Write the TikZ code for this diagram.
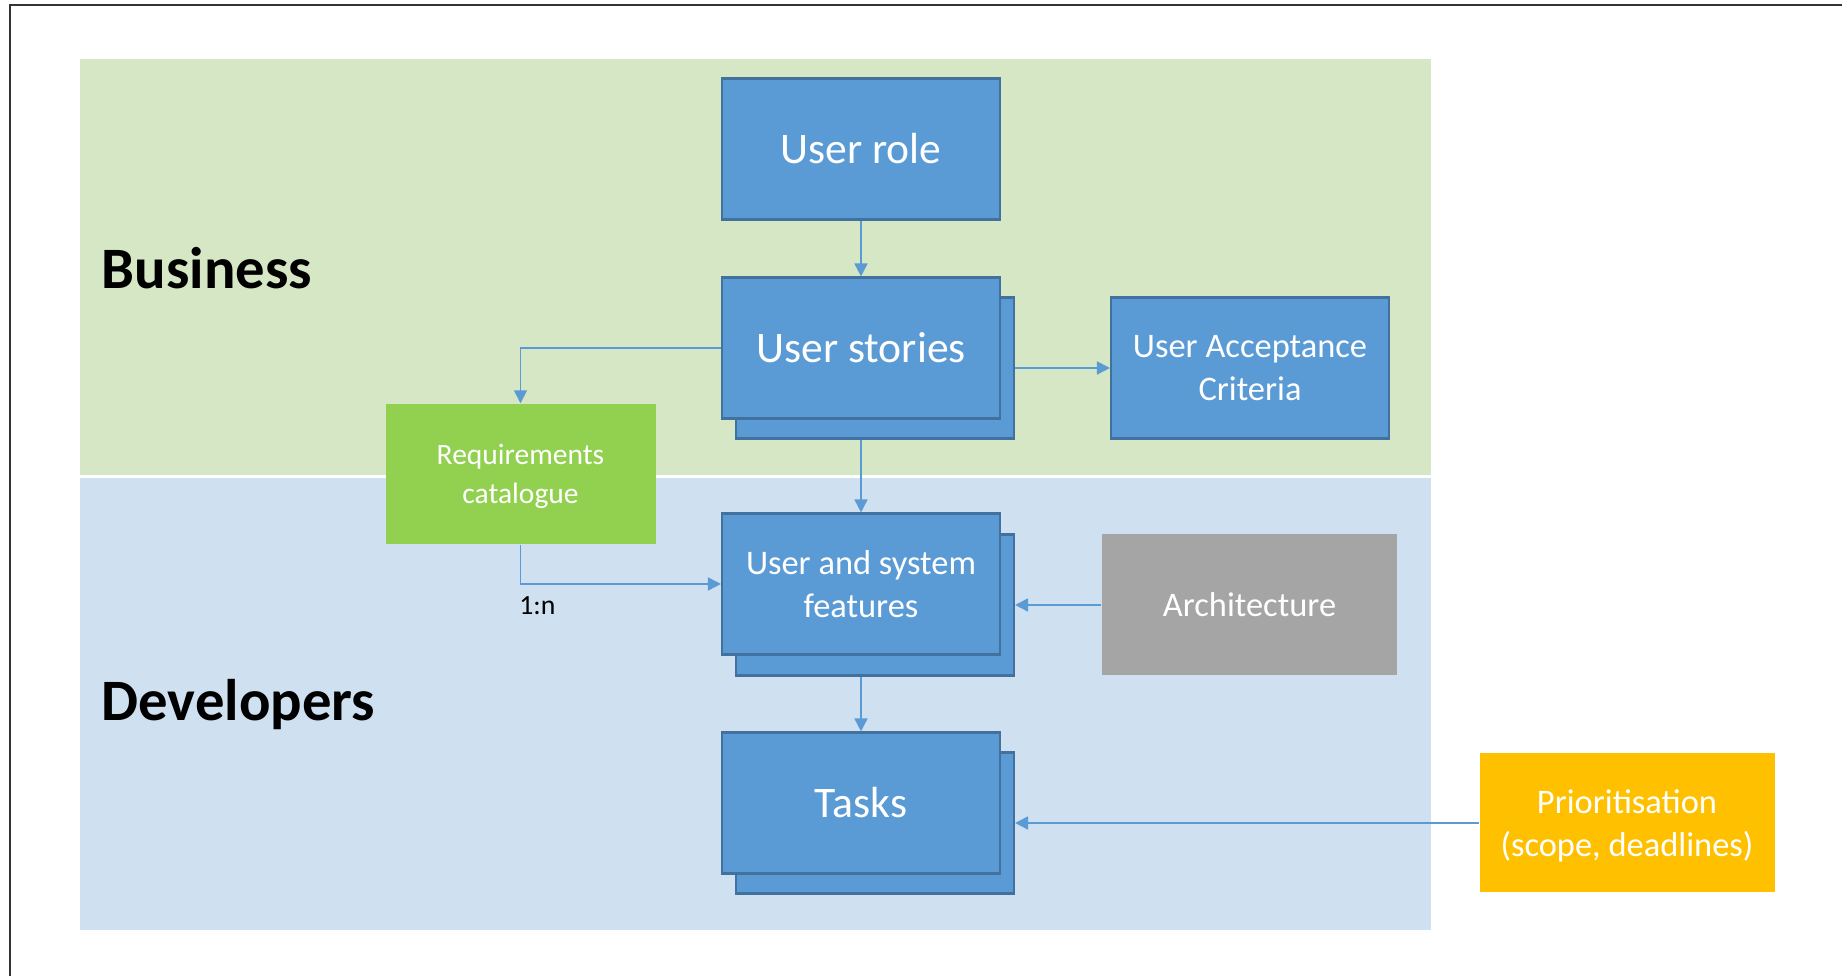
\documentclass[tikz,border=0pt]{standalone}
\usepackage{fontspec}
\setmainfont{Carlito}
\usetikzlibrary{positioning,arrows.meta}
\definecolor{bizgreen}{HTML}{D5E7C5}
\definecolor{devblue}{HTML}{CFE0F1}
\definecolor{cardblue}{HTML}{5B9BD5}
\definecolor{cardedge}{HTML}{41719C}
\definecolor{reqgreen}{HTML}{92D050}
\definecolor{archgray}{HTML}{A5A5A5}
\definecolor{priogold}{HTML}{FFC000}
\definecolor{framegray}{HTML}{333333}

\begin{document}
\begin{tikzpicture}[x=0.1mm,y=-0.1mm,
card/.style={draw=cardedge,fill=cardblue,rectangle,line width=0.6pt,
    minimum width=27.8mm,minimum height=14.1mm,inner sep=0pt,
    text=white,align=center},
bigtext/.style={font=\fontsize{12.4}{15}\selectfont},
midtext/.style={font=\fontsize{9.8}{12.4}\selectfont},
flatbox/.style={rectangle,minimum width=29.5mm,minimum height=14mm,
    inner sep=0pt,text=white,align=center},
lane/.style={font=\fontsize{16.7}{20}\selectfont\bfseries,anchor=west,inner sep=0pt},
link/.style={draw=cardblue,line width=0.5pt,-{Triangle[width=1.3mm,length=1.3mm]}}]
\useasboundingbox (0,0) rectangle (1842,976);

% swim lanes
\fill[bizgreen] (80,59) rectangle (1431,475);
\fill[devblue] (80,478) rectangle (1431,930);
\draw[framegray,line width=0.2mm] (1842,5) -- (10,5) -- (10,976);

\node[lane] (business) at (101,268) {Business};
\node[lane] (developers) at (101,705) {Developers};

% stacked cards: the copy behind first
\node (storiesback) [card] at (875,368) {};
\node (featback) [card] at (875,605) {};
\node (tasksback) [card] at (875,823) {};

\node (role) [card,bigtext] at (861,149) {User role};
\node (stories) [card,bigtext] at (861,348) {User stories};
\node (feat) [card,midtext,text depth=0pt] at (861,584) {User and system\\features};
\node (tasks) [card,bigtext] at (861,803) {Tasks};

\node (uac) [card,midtext] at (1250,368) {User Acceptance\\Criteria};
\node (req) [flatbox,fill=reqgreen,minimum width=27mm,text depth=0pt,
    font=\fontsize{8.4}{11}\selectfont] at (520.5,474) {Requirements\\catalogue};
\node (arch) [flatbox,fill=archgray,midtext,minimum height=14.1mm] at (1249.5,605) {Architecture};
\node (prio) [flatbox,fill=priogold,midtext,minimum height=13.9mm,text depth=0pt] at (1627,823) {Prioritisation\\(scope, deadlines)};

% connectors
\draw[link] (role.south) -- (stories.north);
\draw[link] (stories.west) -| (req.north);
\draw[link] (storiesback.east) -- (uac.west);
\draw[link] (stories.south |- storiesback.south) -- (feat.north);
\draw[link] (req.south) |- (feat.west)
    node (ratio) [pos=0.542,below,font=\fontsize{7.9}{9}\selectfont] {1:n};
\draw[link] (arch.west) -- (featback.east);
\draw[link] (feat.south |- featback.south) -- (tasks.north);
\draw[link] (prio.west) -- (tasksback.east);
\end{tikzpicture}
\end{document}
